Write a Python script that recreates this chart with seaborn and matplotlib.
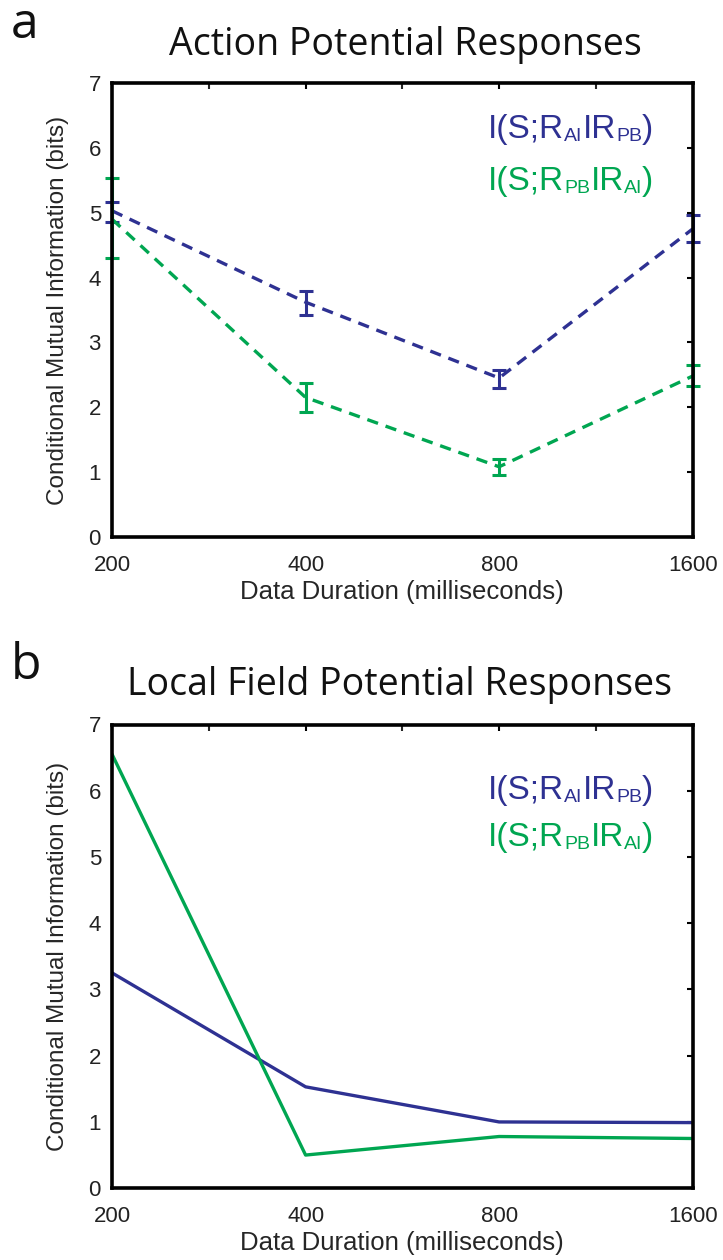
import numpy as np
import pandas as pd
import matplotlib
matplotlib.use("Agg")
import matplotlib.pyplot as plt
from matplotlib.ticker import FixedLocator, NullFormatter
import seaborn as sns

# ---------------- data ----------------
durations = [200, 400, 800, 1600]
tick_labels = ["200", "400", "800", "1600"]

# Action potential: centre, lower, upper of error bars
ap_blue = [5.03, 3.62, 2.45, 4.75]
ap_blue_lo = [4.85, 3.42, 2.30, 4.55]
ap_blue_hi = [5.17, 3.79, 2.58, 4.97]
ap_green = [4.90, 2.15, 1.08, 2.48]
ap_green_lo = [4.30, 1.93, 0.95, 2.32]
ap_green_hi = [5.53, 2.38, 1.20, 2.65]

# Local field potential
lfp_blue = [3.25, 1.53, 1.00, 0.99]
lfp_green = [6.55, 0.50, 0.78, 0.75]

series_names = ["AI|PB", "PB|AI"]
BLUE = "#2e3192"
GREEN = "#00a651"
palette = {series_names[0]: BLUE, series_names[1]: GREEN}

sns.set_theme(style="white")
plt.rcParams["font.family"] = ["Liberation Sans", "DejaVu Sans"]

fig = plt.figure(figsize=(7.23, 12.6), dpi=100)
ax1 = fig.add_axes([0.155, 0.574, 0.803, 0.360])
ax2 = fig.add_axes([0.155, 0.057, 0.803, 0.368])

# long-form frame for AP with lo/centre/hi so median = centre, pi(100) = bar range
rows = []
for name, c, lo, hi in [(series_names[0], ap_blue, ap_blue_lo, ap_blue_hi),
                        (series_names[1], ap_green, ap_green_lo, ap_green_hi)]:
    for d, cc, l, h in zip(durations, c, lo, hi):
        for v in (l, cc, h):
            rows.append({"duration": d, "value": v, "series": name})
ap_df = pd.DataFrame(rows)

sns.lineplot(data=ap_df, x="duration", y="value", hue="series", palette=palette,
             estimator="median", errorbar=("pi", 100), err_style="bars",
             err_kws={"capsize": 5, "capthick": 2.2, "elinewidth": 2.2, "clip_on": False},
             linewidth=2.4, linestyle=(0, (3.4, 2.4)), ax=ax1, legend=False)

lfp_df = pd.DataFrame({
    "duration": durations * 2,
    "value": lfp_blue + lfp_green,
    "series": [series_names[0]] * 4 + [series_names[1]] * 4,
})
sns.lineplot(data=lfp_df, x="duration", y="value", hue="series", palette=palette,
             estimator=None, linewidth=2.4, ax=ax2, legend=False)

def style_axes(ax):
    ax.set_xscale("log", base=2)
    ax.set_xlim(200, 1600)
    ax.set_ylim(0, 7)
    ax.xaxis.set_major_locator(FixedLocator(durations))
    ax.set_xticklabels(tick_labels)
    ax.xaxis.set_minor_locator(FixedLocator([200 * 2 ** 0.5, 400 * 2 ** 0.5, 800 * 2 ** 0.5]))
    ax.xaxis.set_minor_formatter(NullFormatter())
    ax.set_yticks(range(0, 8))
    ax.tick_params(axis="both", which="major", direction="in", length=4, width=1.5,
                   top=True, right=True, labelsize=16, colors="black")
    ax.tick_params(axis="x", which="major", pad=13)
    ax.tick_params(axis="y", which="major", pad=8)
    ax.tick_params(axis="x", which="minor", direction="in", length=4, width=1.5,
                   top=True, bottom=False)
    ax.tick_params(axis="both", which="major", labelcolor="#222222")
    for s in ax.spines.values():
        s.set_linewidth(2.6)
        s.set_color("black")
    ax.set_xlabel("Data Duration (milliseconds)", fontsize=18.5, labelpad=3)
    ax.set_ylabel("Conditional Mutual Information (bits)", fontsize=17.5, labelpad=14)

style_axes(ax1)
style_axes(ax2)

def legend_line(ax, x, y, pieces, color):
    big, small = 24, 14
    prev = ax.text(x, y, pieces[0][0], transform=ax.transAxes, fontsize=big,
                   color=color, ha="left", va="baseline", family=["Liberation Sans"])
    first = prev
    for txt, is_big in pieces[1:]:
        prev = ax.annotate(txt, xy=(1, 0), xycoords=(prev, first), fontsize=big if is_big else small,
                           color=color, ha="left", va="bottom", family=["Liberation Sans"])

legend_pos = {ax1: (0.879, 0.765), ax2: (0.840, 0.737)}
for ax in (ax1, ax2):
    y1, y2 = legend_pos[ax]
    legend_line(ax, 0.648, y1,
                [("I(S;R", True), ("AI", False), ("IR", True), ("PB", False), (")", True)], BLUE)
    legend_line(ax, 0.648, y2,
                [("I(S;R", True), ("PB", False), ("IR", True), ("AI", False), (")", True)], GREEN)

title_font = ["Open Sans", "DejaVu Sans"]
fig.text(0.56, 0.964, "Action Potential Responses", ha="center", va="center",
         fontsize=27, family=title_font, color="#111111")
fig.text(0.552, 0.456, "Local Field Potential Responses", ha="center", va="center",
         fontsize=27, family=title_font, color="#111111")
fig.text(0.015, 0.980, "a", ha="left", va="center", fontsize=36, family=title_font, color="#111111")
fig.text(0.015, 0.471, "b", ha="left", va="center", fontsize=36, family=title_font, color="#111111")

fig.savefig("out.png", dpi=100, facecolor="white")
